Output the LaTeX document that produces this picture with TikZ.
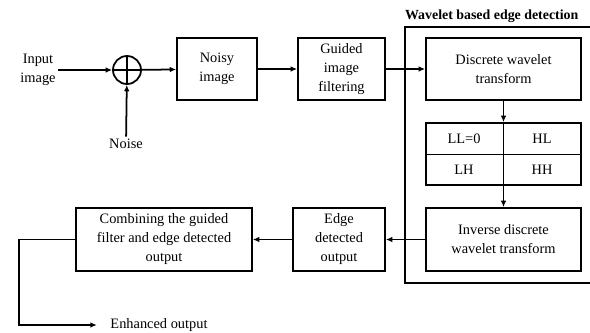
\documentclass[tikz,border=0pt]{standalone}
\usepackage{fontspec}
\setmainfont{Liberation Serif}
\usetikzlibrary{arrows.meta}
\tikzset{blk/.style = {draw, line width=1.1pt, align=center, inner sep=1pt},
         lbl/.style = {align=center, inner sep=1pt},
         >={Latex[length=4pt,width=3.5pt]}}

\begin{document}
\begin{tikzpicture}[x=0.022cm,y=-0.022cm,line width=1.1pt,
                    font=\fontsize{9}{11.9}\selectfont]
    \useasboundingbox (0,0) rectangle (590,332);
    \clip (0,0) rectangle (590,332);

    % top row
    \node[lbl] (input) at (38,70) {Input\\image};
    \node[draw,circle,minimum size=28*0.022cm,inner sep=0pt] (sum) at (127,70) {};
        \draw[line width=0.7pt] (sum.north)--(sum.south);
        \draw[line width=0.7pt] (sum.west)--(sum.east);
    \node[lbl] (noise) at (126,144) {Noise};
    \node[blk,minimum width=80*0.022cm,minimum height=62*0.022cm] (noisy) at (217,69) {Noisy\\image};
    \node[blk,minimum width=87*0.022cm,minimum height=62*0.022cm] (guided) at (341.5,69) {Guided\\image\\filtering};

    % wavelet block
    \draw (600,27)--(405,27)--(405,283)--(600,283);
    \node[anchor=south west,inner sep=2pt,font=\fontsize{8.7}{10}\selectfont\bfseries] (title) at (401,27) {Wavelet based edge detection};
    \node[blk,minimum width=155*0.022cm,minimum height=62*0.022cm] (dwt) at (503.5,69) {Discrete wavelet\\transform};
    \node[blk,minimum width=155*0.022cm,minimum height=62*0.022cm] (grid) at (503.5,154) {};
        \draw[line width=0.6pt] (grid.west)--(grid.east);
        \draw[line width=0.6pt] (grid.north)--(grid.south);
    \node[lbl] (ll) at (464,139) {LL=0};
    \node[lbl] (hl) at (542,139) {HL};
    \node[lbl] (lh) at (464,170) {LH};
    \node[lbl] (hh) at (542,170) {HH};
    \node[blk,minimum width=155*0.022cm,minimum height=63*0.022cm] (idwt) at (503.5,239.5) {Inverse discrete\\wavelet transform};

    % bottom row
    \node[blk,minimum width=92*0.022cm,minimum height=63*0.022cm] (edge) at (339,239.5) {Edge\\detected\\output};
    \node[blk,minimum width=176*0.022cm,minimum height=63*0.022cm] (comb) at (164,239.5) {Combining the guided\\filter and edge detected\\output};
    \node[lbl,anchor=west] (enh) at (108,325) {Enhanced output};

    % connectors
    \draw[->] (input)--(sum);
    \draw[->] (noise)--(sum);
    \draw[->] (sum)--(noisy);
    \draw[->] (noisy)--(guided);
    \draw[->] (guided)--(dwt);
    \draw[->] (dwt)--(grid);
    \draw[->] (grid)--(idwt);
    \draw[->] (idwt)--(edge);
    \draw[->] (edge)--(comb);
    \draw[->,shorten >=7pt] (comb.west)--++(-56,0)|-(enh.west);
\end{tikzpicture}
\end{document}
